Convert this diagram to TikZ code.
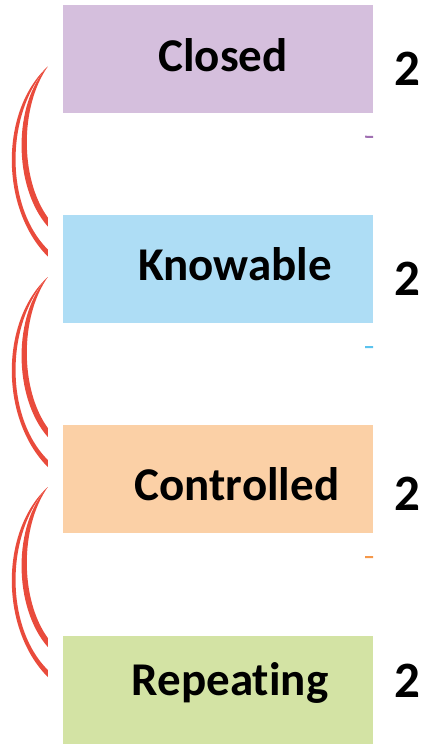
\documentclass[tikz,border=0pt]{standalone}
\usepackage{fontspec}
\setmainfont[Ligatures=NoCommon]{Carlito}
\definecolor{closedfill}{HTML}{D5BFDD}
\definecolor{knowfill}{HTML}{AEDDF5}
\definecolor{controlfill}{HTML}{FBD0A6}
\definecolor{repeatfill}{HTML}{D3E3A4}
\definecolor{arcred}{HTML}{E94B3C}
\definecolor{tickpurple}{HTML}{A070B2}
\definecolor{tickblue}{HTML}{5BC3EE}
\definecolor{tickorange}{HTML}{F5984A}
\begin{document}
\begin{tikzpicture}[x=1pt, y=-1pt,
    levelbox/.style={rectangle, minimum width=310pt, minimum height=108pt, inner sep=0pt, draw=none},
    levellabel/.style={anchor=base, inner sep=0pt, font=\fontsize{47}{56}\selectfont\bfseries},
    levelnum/.style={anchor=base west, inner sep=0pt, font=\fontsize{51}{60}\selectfont\bfseries},
    tickmark/.style={line width=2pt}]
    \useasboundingbox (0,0) rectangle (432,744);

    % Four stacked levels
    \node[levelbox, fill=closedfill] (closed) at (218,58.5) {};
    \node[levelbox, fill=knowfill] (knowable) at (218,269) {};
    \node[levelbox, fill=controlfill] (controlled) at (218,479) {};
    \node[levelbox, fill=repeatfill] (repeating) at (218,690) {};

    \node[levellabel] (closedtxt) at (223,71) {Closed};
    \node[levellabel] (knowtxt) at (235,280) {Knowable};
    \node[levellabel] (controltxt) at (237,500) {Controlled};
    \node[levellabel] (repeattxt) at (230,695) {Repeating};

    \node[levelnum] (closednum) at (394,85) {2};
    \node[levelnum] (knownum) at (394,295) {2};
    \node[levelnum] (controlnum) at (394,510) {2};
    \node[levelnum] (repeatnum) at (394,697) {2};

    % Small marks under the boxes
    \draw[tickmark, tickpurple] ([shift={(-8,24)}]closed.south east) -- (closed.south east |- 0,137);
    \draw[tickmark, tickblue] ([shift={(-8,24)}]knowable.south east) -- (knowable.south east |- 0,347);
    \draw[tickmark, tickorange] ([shift={(-8,24)}]controlled.south east) -- (controlled.south east |- 0,557);

    % Red crescents joining each level to the next
    \foreach \a in {closed, knowable, controlled} {
        \begin{scope}[shift={(\a.west)}]
            \fill[arcred] (-15,8) .. controls (-63,52) and (-63,150) .. (-15,198)
                -- (-15,191) .. controls (-58,148) and (-58,55) .. (-15,8) -- cycle;
            \fill[arcred] (-15,8) .. controls (-50,45) and (-50,128) .. (-15,168)
                -- (-15,159) .. controls (-43,120) and (-43,48) .. (-15,8) -- cycle;
        \end{scope}
    }
\end{tikzpicture}
\end{document}
